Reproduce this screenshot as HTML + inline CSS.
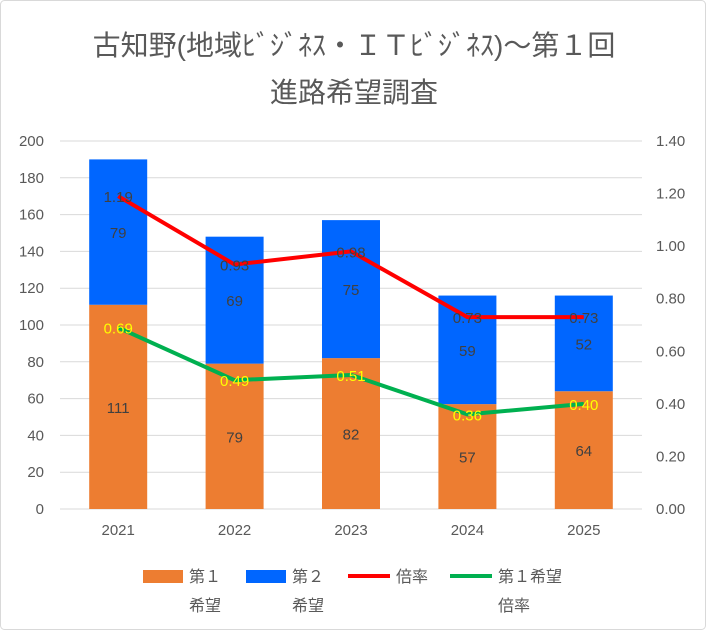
<!DOCTYPE html>
<html><head><meta charset="utf-8"><style>
body{margin:0;background:#fff}
svg text{font-family:"Liberation Sans","Noto Sans CJK JP",sans-serif}
</style></head><body>
<svg id="c" width="706" height="630" xmlns="http://www.w3.org/2000/svg">
<rect x="0.5" y="0.5" width="705" height="629" rx="4" fill="#fff" stroke="#d9d9d9"/>
<text x="354" y="55" text-anchor="middle" font-size="28" fill="#595959">古知野(地域ﾋﾞｼﾞﾈｽ・ＩＴﾋﾞｼﾞﾈｽ)～第１回</text>
<text x="354" y="102" text-anchor="middle" font-size="28" fill="#595959">進路希望調査</text>
<g id="grid"></g><g id="bars"></g><g id="lines"></g><g id="labels"></g><g id="axes"></g>
<g font-size="16" fill="#595959">
<rect x="143" y="570" width="40" height="13" fill="#ED7D31"/>
<text x="189" y="582">第１</text>
<text x="189" y="611">希望</text>
<rect x="246" y="570" width="40" height="13" fill="#0066FF"/>
<text x="292" y="582">第２</text>
<text x="292" y="611">希望</text>
<line x1="348" y1="576" x2="390" y2="576" stroke="#FF0000" stroke-width="4"/>
<text x="396" y="582">倍率</text>
<line x1="450" y1="576" x2="492" y2="576" stroke="#00B050" stroke-width="4"/>
<text x="498" y="582">第１希望</text>
<text x="498" y="611">倍率</text>
</g>
</svg>
<script>
const categories=["2021","2022","2023","2024","2025"];
const firstChoice=[111,79,82,57,64];
const secondChoice=[79,69,75,59,52];
const ratio=[1.19,0.93,0.98,0.73,0.73];
const firstRatio=[0.69,0.49,0.51,0.36,0.40];
const leftTicks=[0,20,40,60,80,100,120,140,160,180,200];
const rightTicks=["0.00","0.20","0.40","0.60","0.80","1.00","1.20","1.40"];
const NS="http://www.w3.org/2000/svg";
const X0=60,X1=642,Y0=509,Y1=141;
const yL=v=>Y0-(v/200)*(Y0-Y1);
const yR=v=>Y0-(v/1.4)*(Y0-Y1);
const band=(X1-X0)/categories.length;
const xC=i=>X0+band*(i+0.5);
const bw=58;
function mk(tag,attrs,parent,txt){const e=document.createElementNS(NS,tag);for(const k in attrs)e.setAttribute(k,attrs[k]);if(txt!==undefined)e.textContent=txt;document.getElementById(parent).appendChild(e);return e;}
leftTicks.forEach(t=>{
 const g=mk('line',{x1:X0,x2:X1,y1:yL(t),y2:yL(t),stroke:'#d9d9d9','stroke-width':1},'grid');
 
 
 const l=mk('text',{x:44,y:yL(t)+5,'text-anchor':'end','font-size':15,fill:'#595959'},'axes',String(t));
 
 
});
rightTicks.forEach(t=>{
 const l=mk('text',{x:656,y:yR(parseFloat(t))+5,'font-size':15,fill:'#595959'},'axes',t);
 
 
});
categories.forEach((c,i)=>{
 const l=mk('text',{x:xC(i),y:535,'text-anchor':'middle','font-size':15,fill:'#595959'},'axes',c);
 
 
 const a=firstChoice[i],b=secondChoice[i];
 const r1=mk('rect',{x:xC(i)-bw/2,y:yL(a),width:bw,height:Y0-yL(a),fill:'#ED7D31'},'bars');
 
 
 const r2=mk('rect',{x:xC(i)-bw/2,y:yL(a+b),width:bw,height:yL(a)-yL(a+b),fill:'#0066FF'},'bars');
 
 
 const t1=mk('text',{x:xC(i),y:(yL(a)+Y0)/2+6,'text-anchor':'middle','font-size':15,fill:'#404040'},'labels',String(a));
 
 
 const t2=mk('text',{x:xC(i),y:(yL(a)+yL(a+b))/2+6,'text-anchor':'middle','font-size':15,fill:'#404040'},'labels',String(b));
 
 
 const t3=mk('text',{x:xC(i),y:yR(ratio[i])+6,'text-anchor':'middle','font-size':15,fill:'#404040'},'labels',ratio[i].toFixed(2));
 
 
 const t4=mk('text',{x:xC(i),y:yR(firstRatio[i])+6,'text-anchor':'middle','font-size':15,fill:'#FFFF00'},'labels',firstRatio[i].toFixed(2));
 
 
});
const p1=mk('polyline',{points:ratio.map((v,i)=>xC(i)+','+yR(v)).join(' '),fill:'none',stroke:'#FF0000','stroke-width':4,'stroke-linejoin':'round'},'lines');


const p2=mk('polyline',{points:firstRatio.map((v,i)=>xC(i)+','+yR(v)).join(' '),fill:'none',stroke:'#00B050','stroke-width':4,'stroke-linejoin':'round'},'lines');


</script>
</body></html>
